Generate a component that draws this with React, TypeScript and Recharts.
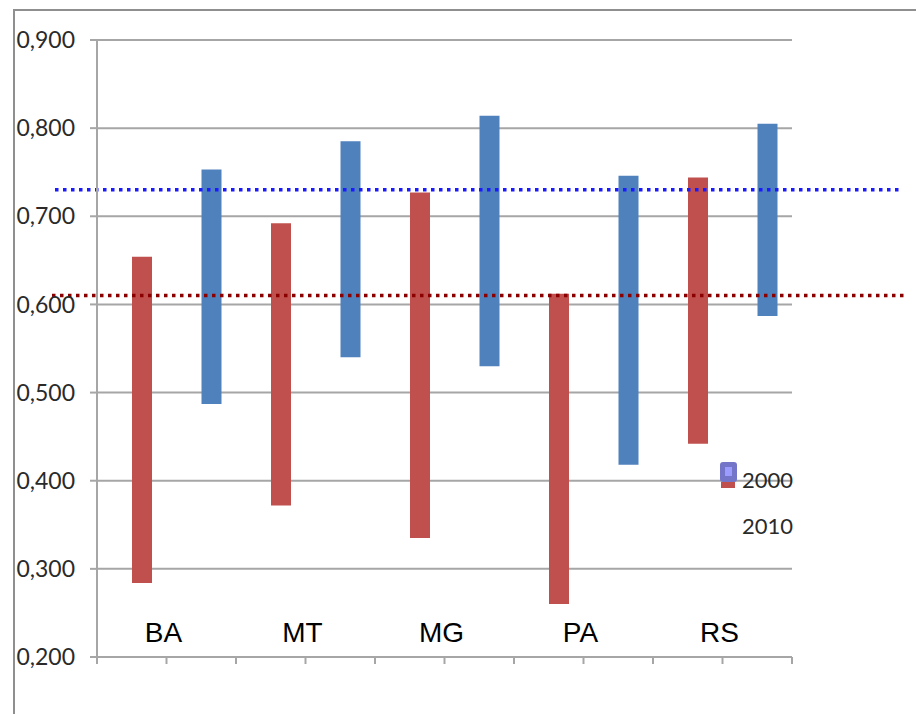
import React from 'react';
import {
  ComposedChart,
  Bar,
  Cell,
  XAxis,
  YAxis,
  CartesianGrid,
  ReferenceLine,
  ReferenceDot,
  Legend,
} from 'recharts';

// ---- data ----
const regions = ['BA', 'MT', 'MG', 'PA', 'RS'];
const years = ['2000', '2010'];
const low2010 = [0.284, 0.372, 0.335, 0.26, 0.442];
const high2010 = [0.654, 0.692, 0.727, 0.612, 0.744];
const low2000 = [0.487, 0.54, 0.53, 0.418, 0.587];
const high2000 = [0.753, 0.785, 0.814, 0.746, 0.805];
const avg2000 = 0.73;
const avg2010 = 0.61;
const yTicks = [0.2, 0.3, 0.4, 0.5, 0.6, 0.7, 0.8, 0.9];

// ---- styles ----
const seriesColor: Record<string, string> = { '2000': '#4f81bd', '2010': '#c0504d' };
const gridColor = '#a6a6a6';
const tickFont = 'Lato, "Noto Sans", sans-serif';

const rows = regions.flatMap((r, i) => [
  { slot: `${r} 2010`, region: r, year: '2010', range: [low2010[i], high2010[i]] },
  { slot: `${r} 2000`, region: r, year: '2000', range: [low2000[i], high2000[i]] },
]);

const fmt = (v: number) => v.toFixed(3).replace('.', ',');

const dottedLine = (color: string, extL: number, extR: number) => (p: any) => (
  <line
    x1={p.x1 - extL}
    y1={p.y1}
    x2={p.x2 + extR}
    y2={p.y2}
    stroke={color}
    strokeWidth={3.5}
    strokeDasharray="3.5 4.5"
  />
);

// tick marks at the edges of each category band
const BoundaryTick = (p: any) => {
  const half = p.payload && typeof p.payload.offset === 'number' ? p.payload.offset : 0;
  const last = p.index === rows.length - 1;
  return (
    <g>
      <line x1={p.x - half} y1={p.y} x2={p.x - half} y2={p.y + 7} stroke={gridColor} strokeWidth={2} />
      {last && (
        <line x1={p.x + half} y1={p.y} x2={p.x + half} y2={p.y + 7} stroke={gridColor} strokeWidth={2} />
      )}
    </g>
  );
};

const LegendBox = () => (
  <svg width={120} height={90} style={{ display: 'block' }}>
    <rect x={7} y={4} width={17} height={20} rx={3} fill="#7474c9" />
    <rect x={12} y={9} width={7} height={9} fill="#9c9cff" />
    <rect x={8} y={24} width={14} height={6} fill={seriesColor['2010']} />
    <text x={29} y={30} fontFamily={tickFont} fontSize={22} fill="#2a2a2a">{years[0]}</text>
    <text x={29} y={76} fontFamily={tickFont} fontSize={22} fill="#2a2a2a">{years[1]}</text>
  </svg>
);

export default function App() {
  return (
    <div style={{ position: 'relative', width: 916, height: 706, overflow: 'hidden' }}>
      <div
        style={{
          position: 'absolute',
          left: 5,
          top: 1,
          width: 2000,
          height: 2000,
          borderLeft: '2px solid #8f8f8f',
          borderTop: '2px solid #8f8f8f',
        }}
      />
      <div style={{ position: 'absolute', left: 0, top: 0 }}>
        <ComposedChart
          width={916}
          height={706}
          data={rows}
          margin={{ top: 32, right: 132, left: 0, bottom: 0 }}
          barGap={0}
        >
          <CartesianGrid
            xAxisId="slot"
            horizontal
            vertical={false}
            stroke={gridColor}
            strokeWidth={2}
          />
          <XAxis
            xAxisId="group"
            dataKey="region"
            type="category"
            allowDuplicatedCategory={false}
            height={0}
            hide
          />
          <XAxis
            xAxisId="slot"
            dataKey="slot"
            type="category"
            height={57}
            interval={0}
            tickSize={0}
            tickMargin={0}
            tickLine={false}
            axisLine={{ stroke: gridColor, strokeWidth: 2 }}
            tick={<BoundaryTick />}
          />
          <YAxis
            domain={[0.2, 0.9]}
            allowDataOverflow
            ticks={yTicks}
            interval={0}
            tickFormatter={fmt}
            width={89}
            tickSize={7}
            tickMargin={15}
            axisLine={{ stroke: gridColor, strokeWidth: 2 }}
            tickLine={{ stroke: gridColor, strokeWidth: 2 }}
            tick={{ fontSize: 23, fill: '#2a2a2a', fontFamily: tickFont }}
          />
          <Bar
            xAxisId="slot"
            dataKey="pad"
            barSize={20}
            fill="transparent"
            legendType="none"
            isAnimationActive={false}
          />
          <Bar xAxisId="slot" dataKey="range" barSize={20} isAnimationActive={false}>
            {rows.map((row) => (
              <Cell key={row.slot} fill={seriesColor[row.year]} />
            ))}
          </Bar>
          <ReferenceLine
            xAxisId="slot"
            y={avg2000}
            shape={dottedLine('#1a1aff', 42, 108)}
          />
          <ReferenceLine
            xAxisId="slot"
            y={avg2010}
            shape={dottedLine('#8b0000', 45, 112)}
          />
          {regions.map((r) => (
            <ReferenceDot
              key={r}
              xAxisId="group"
              x={r}
              y={0.2}
              r={0}
              fill="none"
              stroke="none"
              label={{
                value: r,
                position: 'top',
                offset: 15,
                dx: -3,
                fontSize: 28,
                fill: '#000',
                fontFamily: '"Liberation Sans", Arial, sans-serif',
              }}
            />
          ))}
          <Legend
            layout="horizontal"
            verticalAlign="middle"
            align="center"
            wrapperStyle={{ position: 'absolute', left: 705, top: 450, width: 120, height: 90 }}
            content={() => <LegendBox />}
          />
        </ComposedChart>
      </div>
    </div>
  );
}
